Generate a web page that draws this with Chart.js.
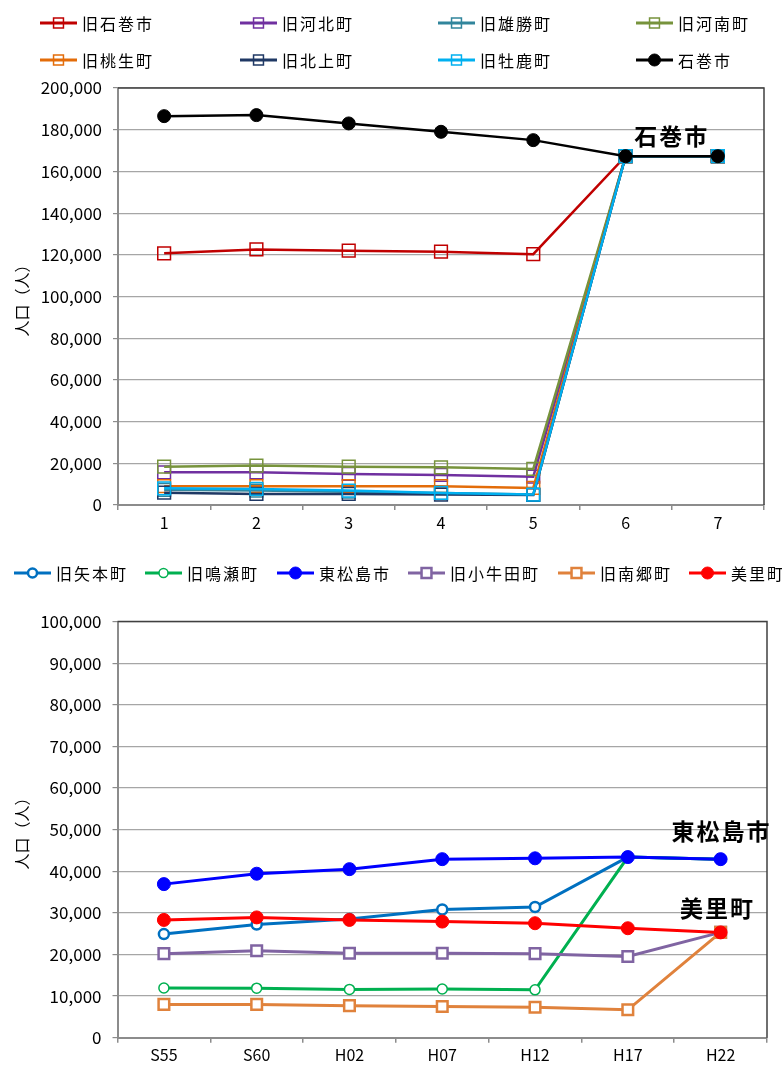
<!DOCTYPE html>
<html><head><meta charset="utf-8">
<script src="https://cdn.jsdelivr.net/npm/chart.js@4.4.1/dist/chart.umd.min.js"></script>
<style>
html,body{margin:0;padding:0;background:#fff;}
#wrap{position:relative;width:782px;height:1066px;overflow:hidden;}
#c1{position:absolute;left:0;top:0;}
#c2{position:absolute;left:0;top:540px;}
</style></head><body>
<div id="wrap">
<canvas id="c1" width="782" height="540"></canvas>
<canvas id="c2" width="782" height="526"></canvas>
</div>
<script>
// ---------- data: top chart (石巻市) ----------
const topCategories = ['1', '2', '3', '4', '5', '6', '7'];
const topNames = ['旧石巻市', '旧河北町', '旧雄勝町', '旧河南町', '旧桃生町', '旧北上町', '旧牡鹿町', '石巻市'];
const kyuIshinomaki = [120700, 122600, 122000, 121500, 120300, 167300, 167300];
const kyuKahoku     = [15700, 15700, 14900, 14400, 13600, 167300, 167300];
const kyuOgatsu     = [7300, 6900, 6400, 5700, 5000, 167300, 167300];
const kyuKanan      = [18400, 18900, 18400, 18100, 17300, 167300, 167300];
const kyuMonou      = [9000, 9000, 9000, 9000, 8200, 167300, 167300];
const kyuKitakami   = [5900, 5300, 5300, 5000, 4800, 167300, 167300];
const kyuOshika     = [8000, 7700, 6900, 5800, 5000, 167300, 167300];
const ishinomaki    = [186500, 187000, 183000, 179000, 175000, 167300, 167300];
const topSeries = [kyuIshinomaki, kyuKahoku, kyuOgatsu, kyuKanan, kyuMonou, kyuKitakami, kyuOshika, ishinomaki];
const topTickMax = 200000, topTickStep = 20000;

// ---------- data: bottom chart (東松島市・美里町) ----------
const botCategories = ['S55', 'S60', 'H02', 'H07', 'H12', 'H17', 'H22'];
const botNames = ['旧矢本町', '旧鳴瀬町', '東松島市', '旧小牛田町', '旧南郷町', '美里町'];
const kyuYamoto   = [24900, 27200, 28500, 30800, 31400, 43400, 42900];
const kyuNaruse   = [11950, 11900, 11600, 11700, 11500, 43400, 42900];
const higashiMatsushima = [36900, 39400, 40500, 42900, 43100, 43400, 42900];
const kyuKogota   = [20200, 20900, 20300, 20300, 20200, 19500, 25300];
const kyuNango    = [8000, 8000, 7700, 7500, 7300, 6700, 25300];
const misato      = [28300, 28900, 28300, 27900, 27500, 26300, 25300];
const botSeries = [kyuYamoto, kyuNaruse, higashiMatsushima, kyuKogota, kyuNango, misato];
const botTickMax = 100000, botTickStep = 10000;

const yTitle = '人口（人）';

// ---------- styles ----------
const FONT = "'Noto Sans CJK JP', 'Noto Sans', sans-serif";
Chart.defaults.font.family = FONT;
Chart.defaults.color = '#000';

const topColors = ['#C00000', '#7030A0', '#31859C', '#77933C', '#E36C09', '#1F3864', '#00B0F0', '#000000'];
const botColors = ['#0070C0', '#00B050', '#0000FF', '#8064A2', '#E0823C', '#FF0000'];
const botStyles = [
  {ps: 'circle', r: 5, fill: '#fff', bw: 2.5},
  {ps: 'circle', r: 5, fill: '#fff', bw: 1.5},
  {ps: 'circle', r: 6.5, fill: null, bw: 1},
  {ps: 'rect', r: 7.5, fill: '#fff', bw: 2.5},
  {ps: 'rect', r: 7.5, fill: '#fff', bw: 2.5},
  {ps: 'circle', r: 6.5, fill: null, bw: 1}
];

function topDatasets() {
  return topSeries.map((d, i) => {
    const last = i === topSeries.length - 1;
    return {
      label: topNames[i], data: d,
      borderColor: topColors[i], borderWidth: 2.5,
      pointStyle: last ? 'circle' : 'rect',
      pointRadius: last ? 6.5 : 9,
      pointBorderWidth: last ? 1 : 1.5,
      pointBorderColor: topColors[i],
      pointBackgroundColor: last ? topColors[i] : 'rgba(255,255,255,0)',
      order: topSeries.length - i,
      tension: 0
    };
  });
}
function botDatasets() {
  return botSeries.map((d, i) => {
    const s = botStyles[i];
    return {
      label: botNames[i], data: d,
      borderColor: botColors[i], borderWidth: 3,
      pointStyle: s.ps, pointRadius: s.r, pointBorderWidth: s.bw,
      pointBorderColor: botColors[i],
      pointBackgroundColor: s.fill || botColors[i],
      order: botSeries.length - i,
      tension: 0
    };
  });
}

// legend + annotation + frame plugin
function makePlugin(cfg) {
  return {
    id: 'custom_' + cfg.name,
    beforeDatasetsDraw(chart) {
      const {ctx, chartArea: a} = chart;
      ctx.save();
      ctx.strokeStyle = '#404040';
      ctx.lineWidth = 1.5;
      ctx.beginPath();
      ctx.moveTo(a.left, a.top);
      ctx.lineTo(a.right, a.top);
      ctx.lineTo(a.right, a.bottom);
      ctx.stroke();
      ctx.restore();
    },
    afterDraw(chart) {
      const ctx = chart.ctx;
      ctx.save();
      // legend
      chart.data.datasets.forEach((ds, i) => {
        const p = cfg.legendPos[i];
        const lx = p[0], ly = p[1];
        ctx.strokeStyle = ds.borderColor;
        ctx.lineWidth = 3;
        ctx.beginPath();
        ctx.moveTo(lx, ly);
        ctx.lineTo(lx + 37, ly);
        ctx.stroke();
        ctx.fillStyle = ds.pointBackgroundColor;
        ctx.strokeStyle = ds.pointBorderColor;
        ctx.lineWidth = ds.pointBorderWidth;
        const lr = ds.pointStyle === 'rect' ? cfg.legendRectR : (ds.pointRadius > 6 ? 6 : 4.5);
        Chart.helpers.drawPoint(ctx, {pointStyle: ds.pointStyle, radius: lr, borderWidth: ds.pointBorderWidth, rotation: 0}, lx + 18.5, ly);
        ctx.fillStyle = '#000';
        ctx.font = '16px ' + FONT;
        try { ctx.letterSpacing = '2px'; } catch (e) {}
        ctx.textAlign = 'left';
        ctx.textBaseline = 'middle';
        ctx.fillText(ds.label, lx + 42, ly + 1);
      });
      // annotations
      const xs = chart.scales.x, ys = chart.scales.y;
      ctx.font = 'bold 23px ' + FONT;
      try { ctx.letterSpacing = '2px'; } catch (e) {}
      ctx.textAlign = 'center';
      ctx.textBaseline = 'middle';
      ctx.fillStyle = '#000';
      cfg.notes.forEach(n => {
        const series = chart.data.datasets[n.ds].data;
        const v = series[series.length - 1];
        const x = xs.getPixelForValue(n.xi) + n.dx;
        const y = ys.getPixelForValue(v) + n.dy;
        ctx.fillText(n.text, x, y);
      });
      ctx.restore();
    }
  };
}

function makeOptions(o) {
  return {
    responsive: false,
    animation: false,
    events: [],
    layout: {padding: {top: o.padTop, right: o.padRight, bottom: 0, left: 0}},
    plugins: {legend: {display: false}, tooltip: {enabled: false}},
    scales: {
      x: {
        type: 'category', offset: true,
        grid: {offset: true, drawOnChartArea: false, drawTicks: true, tickLength: 5, color: '#8c8c8c', lineWidth: 1.5},
        border: {display: true, color: '#8c8c8c', width: 2},
        ticks: {font: {size: 16}, color: '#000', padding: 3, maxRotation: 0, autoSkip: false},
        afterFit(s) { s.height = o.xHeight; }
      },
      y: {
        min: 0, max: o.max,
        grid: {color: '#a6a6a6', lineWidth: 1.2, tickLength: 5, drawTicks: true,
               tickColor: '#8c8c8c'},
        border: {display: true, color: '#8c8c8c', width: 2},
        ticks: {stepSize: o.step, font: {size: 17}, color: '#000', padding: 11,
                callback: v => v.toLocaleString('en-US')},
        title: {display: true, text: yTitle, font: {size: 16}, color: '#000', padding: {top: 12, bottom: 0}},
        afterFit(s) { s.width = o.yWidth; }
      }
    }
  };
}

new Chart(document.getElementById('c1'), {
  type: 'line',
  data: {labels: topCategories, datasets: topDatasets()},
  options: makeOptions({padTop: 88, padRight: 18, xHeight: 35, yWidth: 118, max: topTickMax, step: topTickStep}),
  plugins: [makePlugin({
    name: 'top',
    legendRectR: 7,
    legendPos: [[40, 23], [240, 23], [438, 23], [636, 23], [40, 60], [240, 60], [438, 60], [636, 60]],
    notes: [{ds: 7, xi: 5.5, dx: 0, dy: -20, text: '石巻市'}]
  })]
});

new Chart(document.getElementById('c2'), {
  type: 'line',
  data: {labels: botCategories, datasets: botDatasets()},
  options: makeOptions({padTop: 81.5, padRight: 15, xHeight: 28.3, yWidth: 117.5, max: botTickMax, step: botTickStep}),
  plugins: [makePlugin({
    name: 'bot',
    legendRectR: 7,
    legendPos: [[14, 33], [145, 33], [277, 33], [408, 33], [558, 33], [689, 33]],
    notes: [{ds: 2, xi: 6, dx: 1, dy: -28, text: '東松島市'}, {ds: 5, xi: 6, dx: -3, dy: -24, text: '美里町'}]
  })]
});
</script>
</body></html>
